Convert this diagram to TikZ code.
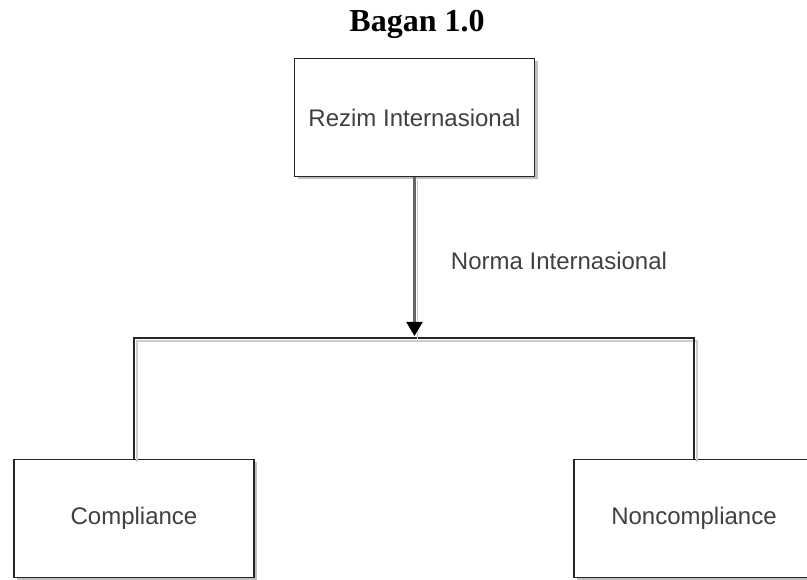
\documentclass[tikz,border=0pt]{standalone}
\usepackage{fontspec}
\setmainfont{Liberation Sans}
\newfontfamily\titlefont{Liberation Serif}
\usetikzlibrary{arrows.meta,shadows}

\begin{document}
\begin{tikzpicture}[x=1pt, y=1pt,
    box/.style={draw=black!85, line width=1.6pt, fill=white, text=black!75,
      minimum width=240pt, minimum height=118pt, inner sep=0pt,
      font=\fontsize{24}{29}\selectfont,
      drop shadow={shadow xshift=3pt, shadow yshift=-3pt, fill=black, opacity=0.25}},
    wire/.style={draw=black!85, line width=1.6pt,
      preaction={-, draw=black!20, line width=1.6pt, transform canvas={shift={(3pt,-3pt)}}}}]
  \useasboundingbox (0,0) rectangle (807,580);
  % title
  \node[font=\titlefont\bfseries\fontsize{32}{38}\selectfont, anchor=base] (title) at (417,548) {Bagan 1.0};
  % the three boxes
  \node[box] (rezim) at (414.5,462.5) {Rezim Internasional};
  \node[box] (comp) at (134,61.5) {Compliance};
  \node[box] (noncomp) at (694,61.5) {Noncompliance};
  \coordinate (bus) at (rezim.south |- 0,242);
  % branches and arrow
  \draw[wire] (comp.north) |- (bus) -| (noncomp.north);
  \draw[wire, draw=black!60, line width=2.2pt, shorten >=2pt,
    -{Triangle[width=16pt,length=14pt,color=black]}] (rezim.south) --
    node[pos=0.52, anchor=west, xshift=32pt, text=black!75, font=\fontsize{24}{29}\selectfont] (norma) {Norma Internasional} (bus);
\end{tikzpicture}
\end{document}
